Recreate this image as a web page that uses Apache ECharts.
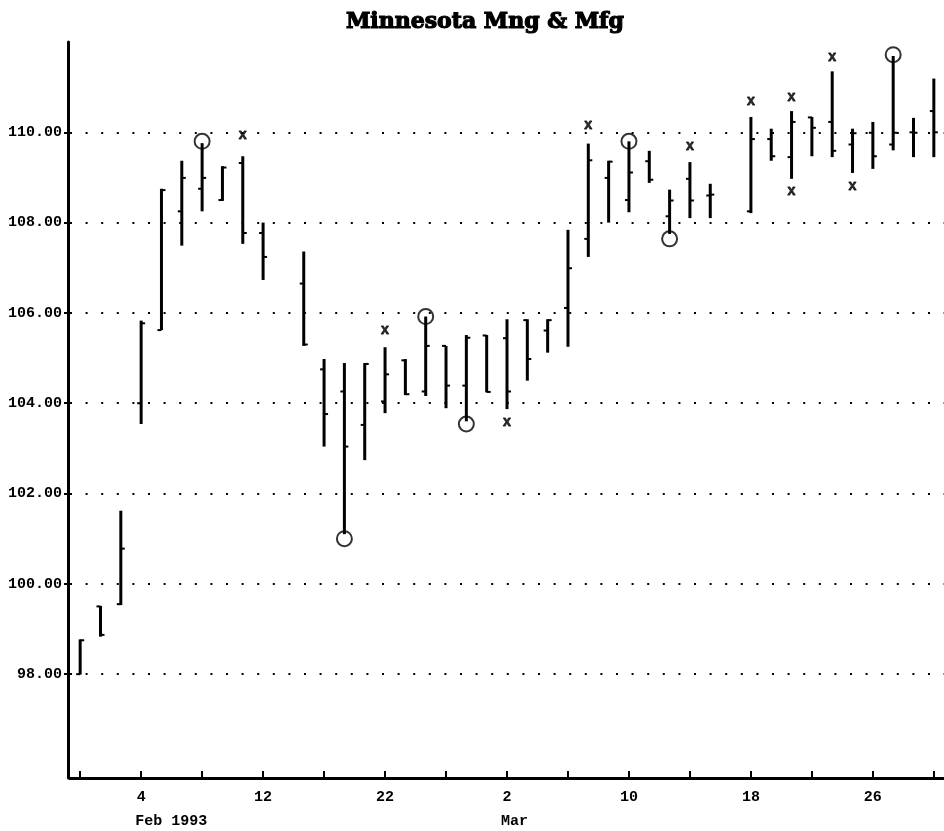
<!DOCTYPE html>
<html>
<head>
<meta charset="utf-8">
<title>Minnesota Mng & Mfg</title>
<script src="https://cdn.jsdelivr.net/npm/echarts@6/dist/echarts.min.js"></script>
<style>
	html, body { margin: 0; padding: 0; background: #fff; }
	#chart { width: 944px; height: 831px; }
</style>
</head>
<body>
<div id="chart"></div>
<script>
	// trading days Feb 1 - Mar 31 1993 (weekdays, Feb 15 holiday and Mar 17 have no bar)
	var days = [
		'1993-02-01','1993-02-02','1993-02-03','1993-02-04','1993-02-05',
		'1993-02-08','1993-02-09','1993-02-10','1993-02-11','1993-02-12',
		'1993-02-15','1993-02-16','1993-02-17','1993-02-18','1993-02-19',
		'1993-02-22','1993-02-23','1993-02-24','1993-02-25','1993-02-26',
		'1993-03-01','1993-03-02','1993-03-03','1993-03-04','1993-03-05',
		'1993-03-08','1993-03-09','1993-03-10','1993-03-11','1993-03-12',
		'1993-03-15','1993-03-16','1993-03-17','1993-03-18','1993-03-19',
		'1993-03-22','1993-03-23','1993-03-24','1993-03-25','1993-03-26',
		'1993-03-29','1993-03-30','1993-03-31'
	];

	var openV  = [98.00, 99.50, 99.55, 104.00, 105.62, 108.25, 108.75, 108.50, 109.32, 107.77,
		null, 106.65, 104.75, 104.26, 103.52, 104.04, 104.95, 104.26, 105.27, 104.39,
		105.50, 105.44, 105.84, 105.61, 106.11, 107.64, 108.99, 108.50, 109.36, 108.14,
		108.97, 108.60, null, 108.25, 109.85, 109.45, 110.33, 110.23, 109.73, 109.99,
		109.73, 110.00, 110.47];
	var highV  = [98.77, 99.51, 101.62, 105.83, 108.75, 109.37, 109.76, 109.25, 109.47, 108.00,
		null, 107.36, 104.98, 104.89, 104.89, 105.24, 104.98, 105.92, 105.27, 105.51,
		105.51, 105.86, 105.86, 105.86, 107.84, 109.75, 109.37, 109.80, 109.59, 108.73,
		109.34, 108.86, null, 110.34, 110.08, 110.47, 110.34, 111.35, 110.08, 110.23,
		111.69, 110.32, 111.19];
	var lowV   = [97.99, 98.83, 99.53, 103.54, 105.62, 107.49, 108.25, 108.48, 107.53, 106.73,
		null, 105.27, 103.04, 101.10, 102.74, 103.78, 104.18, 104.16, 103.89, 103.60,
		104.24, 103.87, 104.50, 105.12, 105.25, 107.24, 108.00, 108.23, 108.88, 107.75,
		108.10, 108.10, null, 108.21, 109.37, 108.97, 109.47, 109.45, 109.10, 109.19,
		109.60, 109.45, 109.45];
	var closeV = [98.75, 98.87, 100.78, 105.77, 108.72, 108.99, 108.99, 109.22, 107.77, 107.24,
		null, 105.30, 103.76, 103.04, 104.87, 104.64, 104.20, 105.27, 104.39, 105.45,
		104.25, 104.26, 104.98, 105.84, 106.99, 109.38, 109.35, 109.11, 108.95, 108.49,
		108.49, 108.62, null, 109.85, 109.47, 110.23, 110.10, 109.59, 109.98, 109.47,
		109.99, 109.99, 110.00];

	// circle and x markers: [day index, price]
	var circleMarks = [[6, 109.80], [13, 101.00], [17, 105.92], [19, 103.54], [27, 109.80], [29, 107.64], [40, 111.72]];
	var crossMarks = [[8, 109.93], [15, 105.61], [21, 103.57], [25, 110.15], [30, 109.69],
		[33, 110.69], [35, 110.78], [35, 108.68], [37, 111.66], [38, 108.79]];

	var yTicks = [98, 100, 102, 104, 106, 108, 110];
	var monthIdx = [3, 21];
	var monthText = ['Feb 1993', 'Mar'];

	var ohlcData = [];
	days.forEach(function(d, i) {
		if (openV[i] == null) return;
		ohlcData.push([i, openV[i], highV[i], lowV[i], closeV[i]]);
	});

	var monoFont = {fontFamily: 'Liberation Mono', fontWeight: 'bold', fontSize: 15, color: '#000'};

	function renderOhlc(params, api) {
		var i = api.value(0);
		var o = api.coord([i, api.value(1)]);
		var h = api.coord([i, api.value(2)]);
		var l = api.coord([i, api.value(3)]);
		var c = api.coord([i, api.value(4)]);
		var tick = 4;
		return {
			type: 'group',
			children: [
				{type: 'line', shape: {x1: h[0], y1: h[1], x2: l[0], y2: l[1]}, style: {stroke: '#000', lineWidth: 3}},
				{type: 'line', shape: {x1: o[0] - tick, y1: o[1], x2: o[0], y2: o[1]}, style: {stroke: '#000', lineWidth: 2}},
				{type: 'line', shape: {x1: c[0], y1: c[1], x2: c[0] + tick, y2: c[1]}, style: {stroke: '#000', lineWidth: 2}}
			]
		};
	}

	var chart = echarts.init(document.getElementById('chart'));
	chart.setOption({
		animation: false,
		backgroundColor: '#fff',
		title: {
			text: 'Minnesota Mng & Mfg',
			left: 346,
			top: 11,
			padding: 0,
			textStyle: {
				fontFamily: 'DejaVu Serif', fontWeight: 'bold', fontSize: 22, color: '#000',
				textBorderColor: '#000', textBorderWidth: 1.2
			}
		},
		grid: {left: 70, right: -8, top: 42, bottom: 53},
		xAxis: [{
			type: 'category',
			data: days,
			boundaryGap: true,
			axisLine: {lineStyle: {color: '#000', width: 3}},
			axisTick: {
				show: true,
				alignWithLabel: true,
				inside: true,
				length: 7,
				interval: function(idx) { return idx % 3 === 0; },
				lineStyle: {color: '#000', width: 2}
			},
			axisLabel: Object.assign({
				margin: 12,
				interval: function(idx) { return idx % 6 === 3; },
				formatter: function(v) { return String(+v.slice(8)); }
			}, monoFont),
			splitLine: {show: false}
		}, {
			// second row of labels: month names
			type: 'category',
			data: days,
			position: 'bottom',
			offset: 24,
			axisLine: {show: false},
			axisTick: {show: false},
			axisLabel: Object.assign({
				margin: 12,
				align: 'left',
				padding: [0, 0, 0, -6],
				interval: function(idx) { return monthIdx.indexOf(idx) >= 0; },
				formatter: function(v, idx) { return monthText[monthIdx.indexOf(idx)]; }
			}, monoFont)
		}],
		yAxis: {
			type: 'value',
			min: 95.7,
			max: 112,
			offset: 2,
			axisLine: {show: true, lineStyle: {color: '#000', width: 3}},
			axisTick: {show: true, length: 4, customValues: yTicks, lineStyle: {color: '#000', width: 2}},
			axisLabel: Object.assign({
				margin: 6,
				customValues: yTicks,
				formatter: function(v) { return v.toFixed(2); }
			}, monoFont),
			splitLine: {
				show: true,
				lineStyle: {color: '#000', width: 2, type: [2, 13.6]}
			}
		},
		series: [{
			name: 'ohlc',
			type: 'custom',
			renderItem: renderOhlc,
			encode: {x: 0, y: [1, 2, 3, 4]},
			data: ohlcData
		}, {
			name: 'circles',
			type: 'scatter',
			symbol: 'circle',
			symbolSize: 15,
			itemStyle: {color: 'rgba(0,0,0,0)', borderColor: '#000', borderWidth: 2},
			data: circleMarks
		}, {
			name: 'crosses',
			type: 'scatter',
			symbolSize: 1,
			itemStyle: {color: 'rgba(0,0,0,0)'},
			label: Object.assign({show: true, position: 'inside', formatter: 'x'}, monoFont,
				{fontSize: 14, textBorderColor: '#000', textBorderWidth: 0.8}),
			data: crossMarks
		}]
	});
</script>
</body>
</html>
